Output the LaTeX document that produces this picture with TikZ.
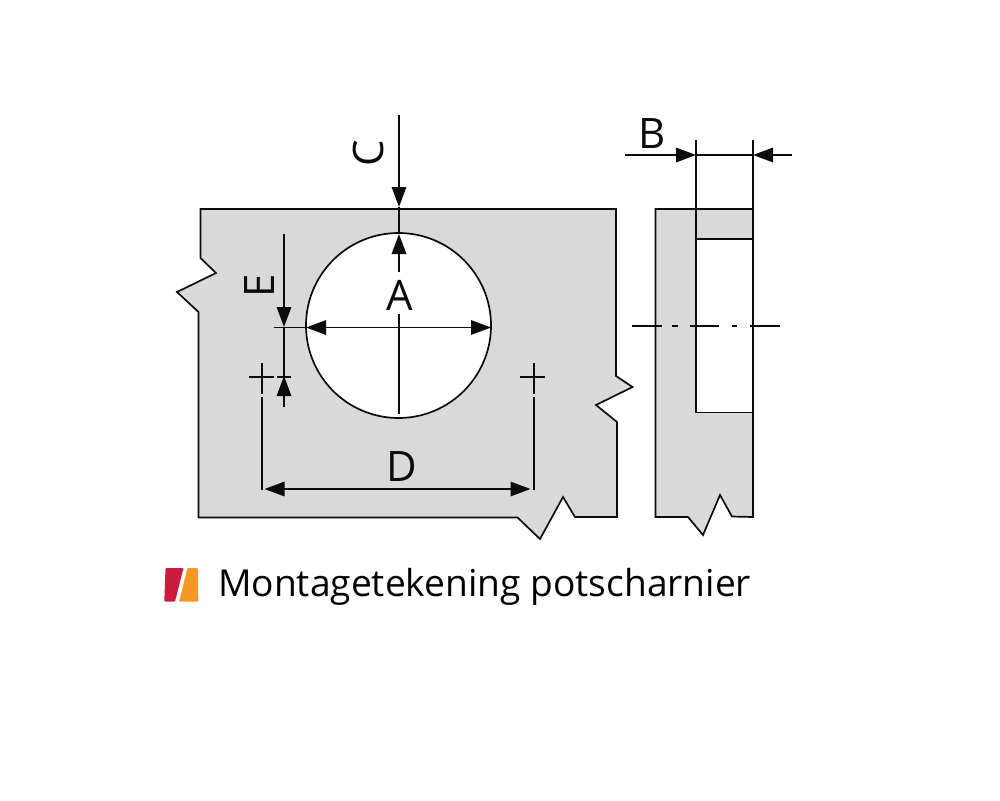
\documentclass[tikz,border=0pt]{standalone}
\usepackage{fontspec}
\setmainfont{Open Sans}
\usetikzlibrary{arrows.meta}
\definecolor{panel}{RGB}{217,217,217}
\definecolor{ink}{RGB}{12,12,12}
\definecolor{logored}{RGB}{206,27,61}
\definecolor{logoorange}{RGB}{247,152,36}
\tikzset{
  part/.style={fill=panel,draw=ink,line width=1.7pt,line join=miter},
  hole/.style={fill=white,draw=ink,line width=1.7pt},
  dimline/.style={draw=ink,line width=1.6pt},
  tip/.style={-{Triangle[length=20pt,width=14.5pt]}},
  biptip/.style={{Triangle[length=20pt,width=14.5pt]}-{Triangle[length=20pt,width=14.5pt]}},
  letter/.style={font=\fontsize{42}{42}\selectfont,text=ink,inner sep=0pt},
}
\begin{document}
\begin{tikzpicture}[x=1pt,y=-1pt]
\useasboundingbox (0,0) rectangle (1000,800);
% left part
\path[part] (200.5,209) -- (616,209) -- (616,376) -- (632.5,387) -- (596,405) -- (617,422) -- (617,517) -- (575,517) -- (563,497) -- (540,539) -- (517.5,517.5) -- (198.5,517.5) -- (198.5,312) -- (177,292) -- (216,273) -- (200.5,258) -- cycle;
\node[circle,hole,minimum size=185pt,inner sep=0pt] (bore) at (398.5,325.5) {};
% right part
\path[part] (655.5,209) -- (753,209) -- (753,517) -- (732,516.5) -- (720,495) -- (703,535) -- (688,517) -- (655.5,517) -- cycle;
\path[hole] (696,239) rectangle (753,412.5);
% coordinates
\coordinate (cT) at (399,115); \coordinate (cA) at (399,207);
\coordinate (cB) at (399,272); \coordinate (cC) at (399,234);
\coordinate (cD) at (399,314); \coordinate (cE) at (399,414);
\coordinate (aL) at (306,327.5); \coordinate (aR) at (491,327.5);
\coordinate (aX) at (274,327.5);
\coordinate (eT) at (284,234); \coordinate (eM) at (284,327);
\coordinate (eB) at (284,407); \coordinate (eN) at (284,376);
\coordinate (t1) at (277,377); \coordinate (t2) at (291,377);
\coordinate (h1) at (249,377); \coordinate (h2) at (274,377);
\coordinate (v1) at (262,363); \coordinate (v2) at (262,394);
\coordinate (v3) at (262,397); \coordinate (v4) at (262,490);
\coordinate (h3) at (520,377); \coordinate (h4) at (545,377);
\coordinate (w1) at (534,363); \coordinate (w2) at (534,394);
\coordinate (w3) at (534,397); \coordinate (w4) at (534,490);
\coordinate (dL) at (264.5,489); \coordinate (dR) at (530.5,489);
\coordinate (bA) at (625,155); \coordinate (bB) at (696,155);
\coordinate (bC) at (753,155); \coordinate (bD) at (792,155);
\coordinate (x1) at (696,140); \coordinate (x2) at (696,239);
\coordinate (x3) at (753,140); \coordinate (x4) at (753,209);
% dimension lines
\draw[dimline,tip] (cT) -- (cA);
\draw[dimline] (cA) -- (cC);
\draw[dimline,tip] (cB) -- (cC);
\draw[dimline] (cD) -- (cE);
\draw[dimline,biptip] (aL) -- (aR);
\draw[dimline] (aX) -- (aL);
\draw[dimline,tip] (eT) -- (eM);
\draw[dimline] (eM) -- (eN);
\draw[dimline,tip] (eB) -- (eN);
\draw[dimline] (t1) -- (t2);
\draw[dimline] (h1) -- (h2);
\draw[dimline] (v1) -- (v2);
\draw[dimline] (v3) -- (v4);
\draw[dimline] (h3) -- (h4);
\draw[dimline] (w1) -- (w2);
\draw[dimline] (w3) -- (w4);
\draw[dimline,biptip] (dL) -- (dR);
\draw[dimline,tip] (bA) -- (bB);
\draw[dimline,tip] (bD) -- (bC);
\draw[dimline] (bB) -- (bC);
\draw[dimline] (x1) -- (x2);
\draw[dimline] (x3) -- (x4);
% centre line
\foreach \a/\b/\n in {632/662/1,672/678/2,690/719/3,732/737/4,750/780/5}{
  \coordinate (m\n a) at (\a,325.8);
  \coordinate (m\n b) at (\b,325.8);
  \draw[dimline] (m\n a) -- (m\n b);
}
% letters
\node[letter] (la) at (400,295) {A};
\node[letter] (lb) at (652,134) {B};
\node[letter,rotate=90] (lc) at (368,153) {C};
\node[letter] (ld) at (402,467) {D};
\node[letter,rotate=90] (le) at (260,286) {E};
% logo
\fill[logored,rounded corners=1pt] (165.5,568) -- (183.5,568) -- (175,601.7) -- (164.3,601.7) -- cycle;
\fill[logoorange,rounded corners=1pt] (187.5,568) -- (198,568) -- (198.3,601.7) -- (179,601.7) -- cycle;
\node[anchor=base west,inner sep=0pt,font=\fontsize{37.15}{37.15}\selectfont,text=black] (cap) at (218,596) {Montagetekening potscharnier};
\end{tikzpicture}
\end{document}
